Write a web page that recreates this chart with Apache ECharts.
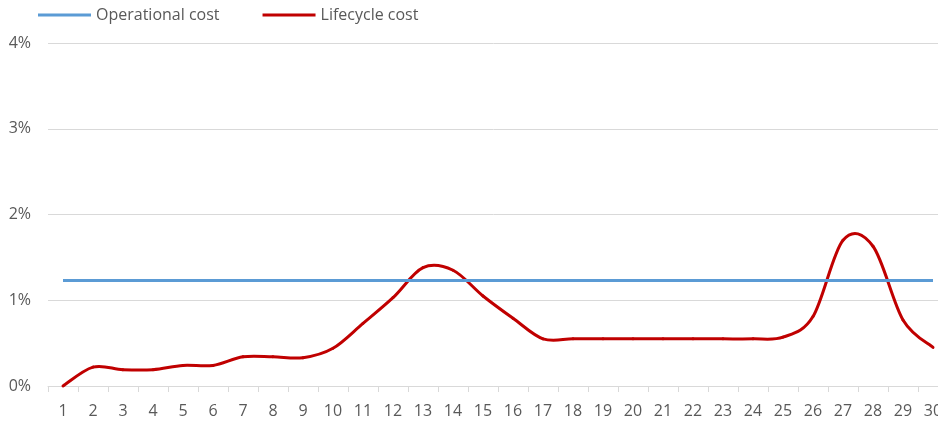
<!DOCTYPE html>
<html>
<head>
<meta charset="utf-8">
<title>Cost</title>
<script src="https://cdn.jsdelivr.net/npm/echarts@6/dist/echarts.min.js"></script>
<style>
  html, body { margin: 0; padding: 0; background: #fff; }
  #main { width: 938px; height: 421px; }
</style>
</head>
<body>
<div id="main"></div>
<script>
// x categories 1..30
const years = ['1','2','3','4','5','6','7','8','9','10','11','12','13','14','15','16','17','18','19','20','21','22','23','24','25','26','27','28','29','30']
// values in percent
const operationalCost = [1.23,1.23,1.23,1.23,1.23,1.23,1.23,1.23,1.23,1.23,1.23,1.23,1.23,1.23,1.23,1.23,1.23,1.23,1.23,1.23,1.23,1.23,1.23,1.23,1.23,1.23,1.23,1.23,1.23,1.23]
const lifecycleCost = [0, 0.22, 0.19, 0.19, 0.24, 0.24, 0.34, 0.34, 0.33, 0.44, 0.73, 1.03, 1.38, 1.35, 1.05, 0.79, 0.55, 0.55, 0.55, 0.55, 0.55, 0.55, 0.55, 0.55, 0.57, 0.81, 1.70, 1.63, 0.77, 0.45]
const yTicks = [0, 1, 2, 3, 4]

const font = '"Open Sans", "Noto Sans", sans-serif'
const chart = echarts.init(document.getElementById('main'))

// excel style smoothed line: catmull-rom through the points, drawn once as bezier pieces
const renderSmooth = (params, api) => {
  if (params.dataIndex !== 0) return null
  const pts = lifecycleCost.map((v, i) => api.coord([i, v]))
  const n = pts.length
  const children = []
  for (let i = 0; i < n - 1; i++) {
    const p0 = pts[Math.max(i - 1, 0)]
    const p1 = pts[i]
    const p2 = pts[i + 1]
    const p3 = pts[Math.min(i + 2, n - 1)]
    children.push({
      type: 'bezierCurve',
      shape: {
        x1: p1[0], y1: p1[1],
        x2: p2[0], y2: p2[1],
        cpx1: p1[0] + (p2[0] - p0[0]) / 6,
        cpy1: p1[1] + (p2[1] - p0[1]) / 6,
        cpx2: p2[0] - (p3[0] - p1[0]) / 6,
        cpy2: p2[1] - (p3[1] - p1[1]) / 6
      },
      style: { fill: null, stroke: '#C00000', lineWidth: 3, lineCap: 'round' }
    })
  }
  return { type: 'group', children: children }
}

let option = {
  animation: false,
  textStyle: { fontFamily: font },
  legend: {
    left: 38,
    top: 7,
    padding: 0,
    itemWidth: 53,
    itemHeight: 3,
    itemGap: 43,
    icon: 'rect',
    textStyle: { color: '#595959', fontSize: 16, fontFamily: font },
    data: ['Operational cost', 'Lifecycle cost']
  },
  grid: {
    left: 48,
    width: 900, // last category runs past the right edge
    top: 43,
    bottom: 35,
    containLabel: false,
    outerBoundsMode: 'none'
  },
  xAxis: {
    type: 'category',
    boundaryGap: true,
    data: years,
    axisLine: { lineStyle: { color: '#D9D9D9', width: 1 } },
    axisTick: { show: true, length: 6, lineStyle: { color: '#D9D9D9' } },
    axisLabel: { color: '#595959', fontSize: 16, margin: 17, fontFamily: font, interval: 0 },
    splitLine: { show: false }
  },
  yAxis: {
    type: 'value',
    min: yTicks[0],
    max: yTicks[yTicks.length - 1],
    interval: 1,
    axisLine: { show: false },
    axisTick: { show: false },
    axisLabel: { color: '#595959', fontSize: 16, margin: 17, fontFamily: font, formatter: '{value}%' },
    splitLine: { show: true, lineStyle: { color: '#D9D9D9', width: 1 } }
  },
  series: [
    {
      name: 'Operational cost',
      type: 'line',
      data: operationalCost,
      showSymbol: false,
      symbol: 'none',
      lineStyle: { color: '#5B9BD5', width: 3 },
      itemStyle: { color: '#5B9BD5' }
    },
    {
      name: 'Lifecycle cost',
      type: 'custom',
      coordinateSystem: 'cartesian2d',
      data: lifecycleCost.map((v, i) => [i, v]),
      encode: { x: 0, y: 1 },
      renderItem: renderSmooth,
      itemStyle: { color: '#C00000' },
      silent: true
    }
  ]
}
chart.setOption(option)
</script>
</body>
</html>
